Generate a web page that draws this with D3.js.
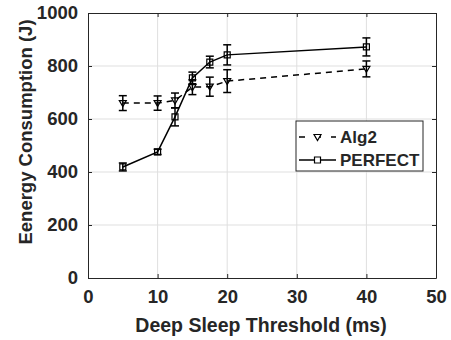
<!DOCTYPE html>
<html>
<head>
<meta charset="utf-8">
<script src="https://cdn.jsdelivr.net/npm/d3@7"></script>
<style>
  body { margin: 0; background: #fff; }
  text { font-family: "Liberation Sans", Arial, sans-serif; font-weight: bold; fill: #262626; }
</style>
</head>
<body>
<svg id="chart" width="451" height="340"></svg>
<script>
var width = 451;
var height = 340;
var padding = { t: 13, r: 15, b: 62, l: 88 };

// data
var thresholds = [5, 10, 12.5, 15, 17.5, 20, 40];
var alg2 = [660, 660, 670, 720, 722, 743, 789];
var alg2Err = [28, 27, 28, 28, 36, 43, 30];
var perfect = [419, 476, 608, 755, 815, 842, 872];
var perfectErr = [15, 10, 34, 22, 22, 38, 34];
var xTicks = [0, 10, 20, 30, 40, 50];
var yTicks = [0, 200, 400, 600, 800, 1000];

var chartWidth = width - padding.l - padding.r;
var chartHeight = height - padding.t - padding.b;

var svg = d3.select('#chart');
var g = svg.append('g').attr('transform', `translate(${padding.l},${padding.t})`);

var xScale = d3.scaleLinear().domain([0, 50]).range([0, chartWidth]);
var yScale = d3.scaleLinear().domain([0, 1000]).range([chartHeight, 0]);

// grid
g.selectAll('.vgrid').data(xTicks.slice(1, -1)).enter().append('line')
  .attr('x1', d => xScale(d)).attr('x2', d => xScale(d))
  .attr('y1', 0).attr('y2', chartHeight)
  .attr('stroke', '#dfdfdf').attr('stroke-width', 1);
g.selectAll('.hgrid').data(yTicks.slice(1, -1)).enter().append('line')
  .attr('y1', d => yScale(d)).attr('y2', d => yScale(d))
  .attr('x1', 0).attr('x2', chartWidth)
  .attr('stroke', '#dfdfdf').attr('stroke-width', 1);

// axes (inward ticks on all sides, MATLAB style)
var tickLen = 4;
var xAxisBottom = d3.axisBottom(xScale).tickValues(xTicks).tickFormat(d3.format('d'))
  .tickSizeInner(-tickLen).tickSizeOuter(0).tickPadding(12);
var xAxisTop = d3.axisTop(xScale).tickValues(xTicks).tickSizeInner(-tickLen).tickSizeOuter(0).tickFormat('');
var yAxisLeft = d3.axisLeft(yScale).tickValues(yTicks).tickFormat(d3.format('d'))
  .tickSizeInner(-tickLen).tickSizeOuter(0).tickPadding(10);
var yAxisRight = d3.axisRight(yScale).tickValues(yTicks).tickSizeInner(-tickLen).tickSizeOuter(0).tickFormat('');

g.append('g').attr('transform', `translate(0,${chartHeight})`).call(xAxisBottom);
g.append('g').call(xAxisTop);
g.append('g').call(yAxisLeft);
g.append('g').attr('transform', `translate(${chartWidth},0)`).call(yAxisRight);

g.selectAll('.domain').attr('stroke', '#262626');
g.selectAll('.tick line').attr('stroke', '#262626');
g.selectAll('.tick text').style('font-size', '18.5px').style('font-weight', 'bold')
  .style('font-family', '"Liberation Sans", Arial, sans-serif').attr('fill', '#262626');

// series
function drawSeries(vals, errs, dash, marker) {
  var pts = thresholds.map((x, i) => ({ x: x, y: vals[i], e: errs[i] }));
  var line = d3.line().x(d => xScale(d.x)).y(d => yScale(d.y));
  g.append('path').datum(pts)
    .attr('d', line).attr('fill', 'none')
    .attr('stroke', '#000').attr('stroke-width', 1.5)
    .attr('stroke-dasharray', dash);

  var eb = g.append('g').attr('stroke', '#000').attr('stroke-width', 1.5);
  pts.forEach(d => {
    var cx = xScale(d.x);
    eb.append('line').attr('x1', cx).attr('x2', cx)
      .attr('y1', yScale(d.y - d.e)).attr('y2', yScale(d.y + d.e));
    [d.y - d.e, d.y + d.e].forEach(v => {
      eb.append('line').attr('x1', cx - 4).attr('x2', cx + 4)
        .attr('y1', yScale(v)).attr('y2', yScale(v));
    });
  });

  g.selectAll(null).data(pts).enter().append('path')
    .attr('transform', d => `translate(${xScale(d.x)},${yScale(d.y)})`)
    .attr('d', marker)
    .attr('fill', 'none').attr('stroke', '#000').attr('stroke-width', 1.2);
}

var triDown = 'M-3.5,-2.5L3.5,-2.5L0,3.5Z';
var square = 'M-3,-3L3,-3L3,3L-3,3Z';

drawSeries(alg2, alg2Err, '6,5', triDown);
drawSeries(perfect, perfectErr, null, square);

// legend
var legend = svg.append('g').attr('transform', 'translate(296,121)');
legend.append('rect').attr('width', 127).attr('height', 50)
  .attr('fill', '#fff').attr('stroke', '#262626').attr('stroke-width', 1);
var legendItems = [
  { name: 'Alg2', dash: '6,10', marker: triDown },
  { name: 'PERFECT', dash: null, marker: square }
];
legendItems.forEach((d, i) => {
  var y = 16 + i * 23;
  legend.append('line').attr('x1', 3).attr('x2', 40).attr('y1', y).attr('y2', y)
    .attr('stroke', '#000').attr('stroke-width', 1.5).attr('stroke-dasharray', d.dash);
  legend.append('path').attr('transform', `translate(21.5,${y})`).attr('d', d.marker)
    .attr('fill', '#fff').attr('stroke', '#000').attr('stroke-width', 1.2);
  legend.append('text').attr('x', 44).attr('y', y).attr('dy', '0.36em')
    .style('font-size', '17px').text(d.name);
});

// axis labels
svg.append('text')
  .attr('x', padding.l + chartWidth / 2 - 1)
  .attr('y', 332)
  .attr('text-anchor', 'middle')
  .style('font-size', '19.5px')
  .text('Deep Sleep Threshold (ms)');

svg.append('text')
  .attr('transform', 'translate(32,132) rotate(-90)')
  .attr('text-anchor', 'middle')
  .style('font-size', '18.5px')
  .text('Eenergy Consumption (J)');
</script>
</body>
</html>
